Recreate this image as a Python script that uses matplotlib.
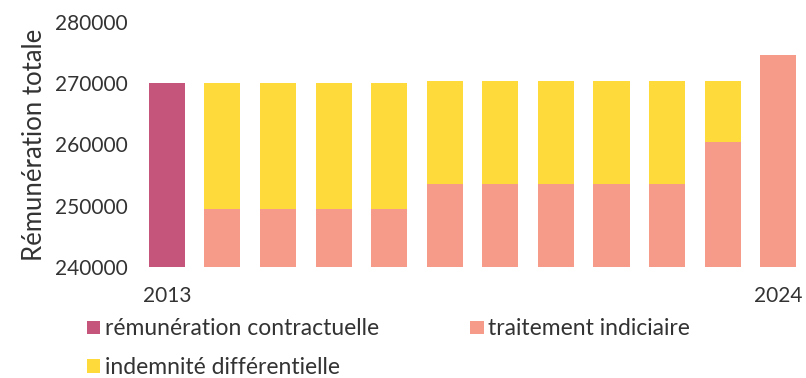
import matplotlib
matplotlib.use("Agg")
import matplotlib.pyplot as plt
import numpy as np

plt.rcParams['font.family'] = ['Lato', 'DejaVu Sans']

years = [2013, 2014, 2015, 2016, 2017, 2018, 2019, 2020, 2021, 2022, 2023, 2024]
base = 240000
contractuelle = [270000, 0, 0, 0, 0, 0, 0, 0, 0, 0, 0, 0]
traitement = [0, 249500, 249500, 249500, 249500, 253500, 253500, 253500, 253500, 253500, 260400, 274600]
indemnite = [0, 20500, 20500, 20500, 20500, 16800, 16800, 16800, 16800, 16800, 9900, 0]
tick_labels = {2013: "2013", 2024: "2024"}

c_contr = "#C5557A"
c_trait = "#F69A8A"
c_indem = "#FEDB3A"

fig = plt.figure(figsize=(8.06, 3.78), dpi=100)
ax = fig.add_axes([0.1725, 0.294, 0.8275, 0.648])

x = np.arange(len(years))
w = 0.65
contr = np.array(contractuelle, float)
trait = np.array(traitement, float)
indem = np.array(indemnite, float)

mc = contr > 0
ax.bar(x[mc], contr[mc] - base, bottom=base, width=w, color=c_contr, label="rémunération contractuelle")
mt = trait > 0
ax.bar(x[mt], trait[mt] - base, bottom=base, width=w, color=c_trait, label="traitement indiciaire")
mi = indem > 0
ax.bar(x[mi], indem[mi], bottom=trait[mi], width=w, color=c_indem, label="indemnité différentielle")

ax.set_xlim(-0.5, 11.5)
ax.set_ylim(240000, 280000)
ax.set_yticks([240000, 250000, 260000, 270000, 280000])
ax.set_yticklabels([str(v) for v in [240000, 250000, 260000, 270000, 280000]])
pos = [years.index(y) for y in tick_labels]
ax.set_xticks(pos)
ax.set_xticklabels(list(tick_labels.values()))
for s in ax.spines.values():
    s.set_visible(False)
ax.tick_params(axis='both', length=0, labelsize=15, colors="#333333")
ax.tick_params(axis='x', pad=14)
ax.tick_params(axis='y', pad=8)
ax.set_ylabel("Rémunération totale", fontsize=18.5, color="#333333", labelpad=6)

h, l = ax.get_legend_handles_labels()
order = [0, 2, 1]
leg = fig.legend([h[i] for i in order], [l[i] for i in order], ncol=2,
                 loc="upper left", bbox_to_anchor=(0.108, 0.158), frameon=False,
                 fontsize=16.5, handlelength=0.57, handleheight=0.5, handletextpad=0.2,
                 columnspacing=4.0, labelspacing=0.78, borderaxespad=0, borderpad=0)
for t in leg.get_texts():
    t.set_color("#333333")

fig.savefig("out.png", dpi=100)
